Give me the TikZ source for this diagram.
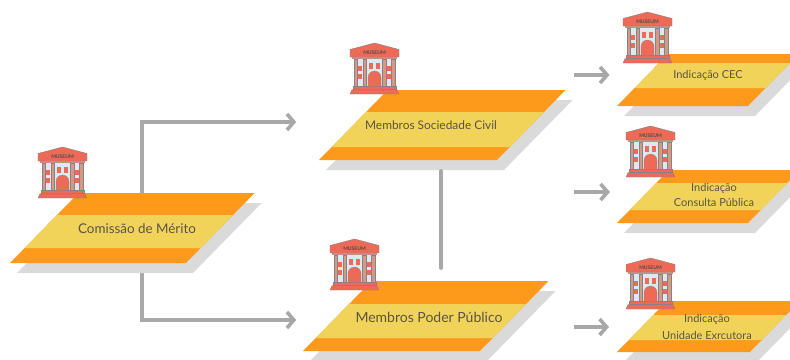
\documentclass[tikz,border=0pt]{standalone}
\usepackage{xcolor}
\usepackage{fontspec}
\setmainfont{Lato}
\usetikzlibrary{arrows.meta, backgrounds}

\definecolor{panelorange}{HTML}{FD9A1C}
\definecolor{panelyellow}{HTML}{F2D35A}
\definecolor{panelshade}{HTML}{DADADA}
\definecolor{flowgray}{HTML}{A8A8A8}
\definecolor{labelink}{HTML}{5A5444}
\definecolor{brick}{HTML}{EC6A56}
\definecolor{wallblue}{HTML}{DCE9F2}
\definecolor{pillar}{HTML}{D39A82}
\definecolor{iconline}{HTML}{8A8088}

\tikzset{
    flow/.style={draw=flowgray, line width=3.8pt, -{Straight Barb[length=7pt,width=16pt,line width=3.6pt]}},
    plainflow/.style={draw=flowgray, line width=3.8pt, line cap=round},
    bigtext/.style={text=labelink},
    smalltext/.style={text=labelink, font=\fontsize{11}{15}\selectfont, align=center},
    panelbox/.style={inner sep=0pt, outer sep=0pt},
    museum/.pic={
        % steps
        \fill[brick, draw=iconline, line width=0.3pt] (0,51) -- (2,46.5) -- (47,46.5) -- (49,51) -- cycle;
        \fill[brick, draw=iconline, line width=0.3pt] (3,43.5) rectangle (46,46.5);
        % wall and pillars
        \fill[wallblue, draw=iconline, line width=0.3pt] (4,15) rectangle (45,43.5);
        \foreach \px in {3.7,12.7,32.5,41.5}
            \fill[pillar, draw=iconline, line width=0.2pt] (\px,16) rectangle (\px+3.4,43.5);
        % windows
        \foreach \px in {19,26}
            \fill[brick] (\px,20) rectangle (\px+4,26);
        \foreach \px in {8.2,37.2}
            \foreach \py in {23,31}
                \fill[brick] (\px,\py) rectangle (\px+3.6,\py+4.5);
        % door
        \fill[brick, draw=iconline, line width=0.2pt] (18,43.5) -- (18,34.5) arc[start angle=180, end angle=0, x radius=6.5, y radius=-6.5] -- (31,43.5) -- cycle;
        % roof
        \fill[brick, draw=iconline, line width=0.4pt] (0,6.5) -- (24.5,0) -- (49,6.5) -- (49,14) -- (0,14) -- cycle;
        \fill[pillar!70!iconline] (2,14) rectangle (47,16);
        \node[inner sep=0pt, font=\fontsize{5}{5}\selectfont\bfseries, text=black!70] (-lbl) at (24.5,9.5) {MUSEUM};
    }
}

% name, left x, top y, base width, height, band top, band bottom
\newcommand{\panel}[7]{
    \fill[panelshade] (#2+7,#3+#5+10) -- ++(#4,0) -- ++(0.98*#5,-#5) -- ++(-#4,0) -- cycle;
    \fill[panelorange] (#2,#3+#5) -- ++(#4,0) -- ++(0.98*#5,-#5) -- ++(-#4,0) -- cycle;
    \fill[panelyellow] (#2+0.98*#5-0.98*#7,#3+#7) -- ++(#4,0) -- ++(0.98*#7-0.98*#6,#6-#7) -- ++(-#4,0) -- cycle;
    \node[panelbox, minimum width=#4, minimum height=#5] (#1) at (#2+0.49*#5+0.5*#4,#3+0.5*#5) {};
}

\begin{document}
\begin{tikzpicture}[x=1pt, y=-1pt]
    \clip (0,0) rectangle (790,359);

    % Left panel
    \panel{comissao}{10}{193}{176}{70}{22}{55}
    \node[bigtext, font=\fontsize{13.4}{15}\selectfont] (comissaotxt) at (137,229) {Comissão de Mérito};
    \pic (comissaoicon) at (38,147) {museum};

    % Middle panels
    \panel{sociedade}{319}{90}{178}{70}{22}{57}
    \node[bigtext, font=\fontsize{11.9}{15}\selectfont] (sociedadetxt) at (431,125) {Membros Sociedade Civil};
    \pic (sociedadeicon) at (350,43) {museum};

    \panel{poder}{303}{281}{177}{70}{23}{57}
    \node[bigtext, font=\fontsize{14}{15}\selectfont] (podertxt) at (429,317) {Membros Poder Público};
    \pic (podericon) at (330,239) {museum};

    % Right panels
    \panel{cec}{617}{54}{131}{52}{9}{34}
    \node[smalltext] (cectxt) at (708,75) {Indicação CEC};
    \pic (cecicon) at (623,12) {museum};

    \panel{consulta}{617}{170}{131}{53}{13}{40}
    \node[smalltext] (consultatxt) at (714,195) {Indicação\\Consulta Pública};
    \pic (consultaicon) at (626,126) {museum};

    \panel{unidade}{617}{301}{133}{51}{14}{39}
    \node[smalltext, font=\fontsize{11}{17}\selectfont] (unidadetxt) at (707,327) {Indicação\\Unidade Exrcutora};
    \pic (unidadeicon) at (626,258) {museum};

    % Connections
    \begin{scope}[on background layer]
        \draw[flow] ([xshift=10pt]comissao.north) |- ([xshift=-57pt,yshift=3pt]sociedade.west);
        \draw[flow] ([xshift=10pt]comissao.south) |- ([xshift=-41pt,yshift=-4pt]poder.west);
    \end{scope}
    \draw[plainflow] ([xshift=-1.3pt,yshift=-11pt]sociedade.south) -- ([xshift=15.2pt,yshift=13pt]poder.north);

    % Outputs
    \coordinate (cecstart) at (574,75);
    \coordinate (consultastart) at (574,192);
    \coordinate (unidadestart) at (574,327);
    \draw[flow] (cecstart) -- ([xshift=-33pt,yshift=5pt]cec.west);
    \draw[flow] (consultastart) -- ([xshift=-33pt,yshift=4.5pt]consulta.west);
    \draw[flow] (unidadestart) -- ([xshift=-33pt,yshift=-0.5pt]unidade.west);
\end{tikzpicture}
\end{document}
